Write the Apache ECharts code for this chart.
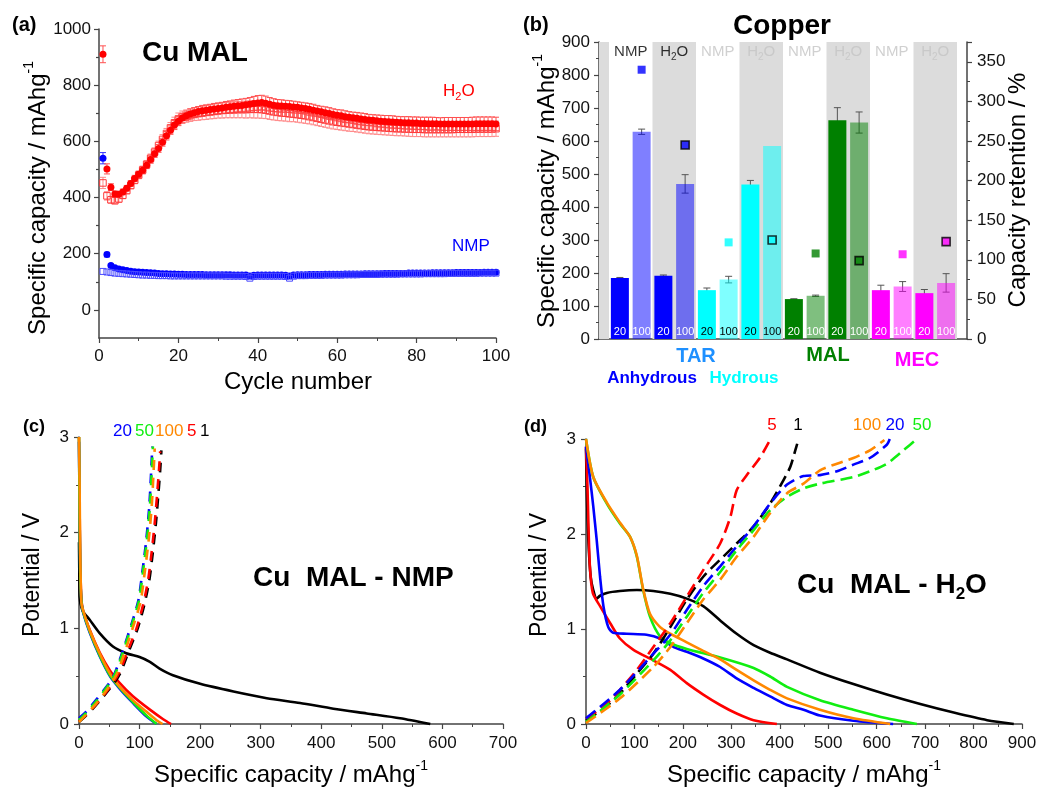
<!DOCTYPE html>
<html>
<head>
<meta charset="utf-8">
<title>Copper MAL electrodes</title>
<script src="https://cdn.jsdelivr.net/npm/echarts@6/dist/echarts.min.js"></script>
<style>
  html, body { margin: 0; padding: 0; background: #fff; }
  #fig { width: 1037px; height: 787px; }
</style>
</head>
<body>
<div id="fig"></div>
<script>
const FONT = '"Liberation Sans", Arial, Helvetica, sans-serif';

// ---------- (a) cycling of Cu MAL electrodes, cycles 1..100 ----------
const h2oDischarge = [
  910,502,437,413,412,420,433,450,468,483,
  497,515,535,556,575,597,620,640,658,672,
  683,691,697,702,706,709,711,713,715,717,
  719,721,723,725,727,728,730,732,735,737,
  738,736,732,729,727,726,725,724,722,721,
  719,717,714,711,708,705,702,699,696,693,
  691,688,686,684,682,680,678,676,675,673,
  672,671,670,669,668,667,666,666,665,665,
  664,664,663,663,663,662,662,662,662,662,
  662,662,662,662,663,663,663,663,663,662];
const h2oDischargeErr = [
  30,18,12,10,10,10,10,10,11,11,
  12,12,13,13,14,14,15,15,16,16,
  17,17,18,18,18,19,19,19,20,20,
  20,21,21,22,22,23,23,24,25,26,
  26,25,24,23,22,22,21,21,21,20,
  20,20,21,21,20,20,21,21,20,20,
  21,21,20,20,21,21,21,20,20,21,
  21,21,22,22,21,21,22,22,22,22,
  22,22,23,23,22,22,23,23,23,23,
  23,23,23,24,24,24,24,24,24,24];
const h2oCharge = [
  452,406,392,389,395,408,425,443,462,480,
  498,518,540,562,585,607,628,648,666,680,
  686,690,694,697,699,701,703,705,707,709,
  710,711,712,712,713,713,713,714,714,714,
  713,711,708,705,703,701,700,698,697,695,
  693,691,688,685,682,679,676,673,670,668,
  666,664,662,660,658,656,654,652,651,650,
  649,648,647,646,645,645,644,644,643,643,
  643,642,642,642,642,642,642,642,642,643,
  643,643,643,643,644,644,644,644,644,645];
const h2oChargeErr = [
  20,15,12,12,12,12,12,12,13,13,
  14,14,15,15,16,17,18,19,20,21,
  22,22,23,23,24,24,25,25,26,26,
  27,27,28,28,29,29,30,30,31,31,
  31,30,30,29,29,28,28,28,27,27,
  27,27,26,26,26,26,26,26,26,26,
  26,26,26,25,25,25,25,25,25,25,
  25,25,25,25,25,25,25,26,26,26,
  26,26,26,26,26,26,26,26,26,27,
  27,27,27,27,27,27,27,27,27,27];
const nmpDischarge = [
  540,197,158,150,146,143,140,138,136,135,
  134,133,132,131,130,129,129,128,128,127,
  127,126,126,126,126,126,125,125,125,125,
  125,125,125,124,124,124,124,121,123,124,
  124,124,124,124,124,124,123,121,124,125,
  125,125,126,126,126,126,127,127,127,127,
  127,128,128,128,128,128,129,129,129,129,
  129,130,130,130,130,130,130,131,131,131,
  131,131,131,132,132,132,132,132,132,133,
  133,133,133,133,133,133,134,134,134,134];
const nmpDischargeErr = [20, 8, 5, 4, 4];   // first cycles only
const nmpCharge = [
  137,135,133,131,130,129,128,127,126,125,
  124,124,123,123,122,122,122,121,121,121,
  121,121,121,121,121,121,121,121,121,121,
  121,120,120,120,120,120,119,113,119,120,
  120,120,120,120,120,120,119,113,120,122,
  122,122,123,123,123,123,124,124,124,124,
  124,125,125,125,125,126,126,126,126,126,
  127,127,127,127,127,128,128,128,128,128,
  128,129,129,129,129,129,129,130,130,130,
  130,130,130,130,130,131,131,131,131,131];

// ---------- (b) copper summary: 20th / 100th cycle capacity ----------
const barBinder  = ['anhydrous','anhydrous','anhydrous','anhydrous','hydrous','hydrous','hydrous','hydrous',
                    'MAL','MAL','MAL','MAL','MEC','MEC','MEC','MEC'];
const barSolvent = ['NMP','NMP','H2O','H2O','NMP','NMP','H2O','H2O',
                    'NMP','NMP','H2O','H2O','NMP','NMP','H2O','H2O'];
const barCycle   = ['20','100','20','100','20','100','20','100','20','100','20','100','20','100','20','100'];
const barCapacity    = [185, 628, 192, 470, 148, 180, 468, 585, 121, 131, 663, 656, 148, 159, 139, 170];
const barCapacityErr = [1.5, 8, 2, 28, 6.5, 10, 12.5, 0, 1, 2, 38, 32, 15, 15, 11, 28];
const retention = [340, 245, 122, 125, 108, 99, 107, 123];   // % of cycle 20, one per binder/solvent pair
const solventHeaders = ['NMP','H2O','NMP','H2O','NMP','H2O','NMP','H2O'];

// ---------- (c) Cu MAL - NMP voltage profiles [capacity, V] ----------
const nmp1Dis   = [[0,1.9],[0.5,1.6],[1,1.33],[5.5,1.19],[17.6,1.09],[34,0.95],[56,0.81],[78,0.74],[100,0.70],[117,0.65],[133,0.58],[155,0.51],[200,0.42],[255,0.34],[310,0.27],[365,0.22],[420,0.16],[475,0.11],[530,0.06],[580,0]];
const nmp5Dis   = [[0,3.0],[1,2.3],[2,1.7],[4,1.3],[7,1.18],[18,0.98],[34,0.75],[51,0.56],[67,0.43],[89,0.29],[117,0.15],[139,0.05],[152,0]];
const nmp20Dis  = [[0,2.95],[1,2.2],[2,1.6],[4,1.28],[7,1.16],[18,0.95],[34,0.71],[51,0.50],[67,0.37],[89,0.22],[111,0.08],[128,0]];
const nmp50Dis  = [[0,3.0],[1,2.2],[2,1.6],[4,1.28],[7,1.17],[18,0.96],[34,0.72],[51,0.51],[67,0.38],[89,0.23],[111,0.09],[128,0]];
const nmp100Dis = [[0,3.0],[1,2.5],[2,1.8],[3.9,1.27],[6.6,1.19],[17.6,0.98],[34,0.74],[51,0.53],[67,0.39],[89,0.25],[111,0.13],[128,0.04],[138,0]];
const nmp1Cha   = [[0,0.02],[17,0.12],[34,0.24],[57,0.42],[68,0.53],[81,0.74],[97,1.0],[108,1.25],[116,1.5],[122,1.8],[127,2.1],[131,2.4],[134,2.65],[136,2.86]];
const nmp5Cha   = [[0,0.03],[16,0.12],[33,0.24],[55,0.42],[66,0.53],[79,0.74],[95,1.0],[106,1.25],[114,1.5],[120,1.8],[125,2.1],[129,2.4],[132,2.65],[134,2.85]];
const nmp20Cha  = [[0,0.06],[12,0.13],[28,0.25],[49,0.42],[59,0.53],[71,0.74],[87,1.05],[98,1.29],[105,1.61],[111,1.92],[116,2.27],[119,2.62],[121,2.9]];
const nmp50Cha  = [[0,0.04],[14,0.13],[30,0.25],[50,0.42],[60,0.53],[72,0.74],[88,1.05],[99,1.29],[106,1.61],[112,1.92],[117,2.27],[120,2.62],[122,2.9]];
const nmp100Cha = [[0,0.02],[15,0.12],[32,0.24],[53,0.42],[63,0.53],[75,0.74],[91,1.05],[102,1.29],[109,1.61],[115,1.92],[120,2.27],[123,2.62],[125,2.88]];

// ---------- (d) Cu MAL - H2O voltage profiles [capacity, V] ----------
const h2o1Dis   = [[0,2.9],[2,2.4],[4.8,1.94],[9.6,1.55],[15,1.41],[22,1.32],[29,1.35],[43,1.38],[70,1.40],[105,1.41],[139,1.40],[174,1.37],[208,1.32],[242,1.24],[277,1.09],[311,0.95],[346,0.83],[380,0.75],[415,0.68],[483,0.54],[552,0.42],[621,0.31],[690,0.21],[759,0.12],[828,0.04],[883,0]];
const h2o5Dis   = [[0,2.92],[3,2.5],[5,2.11],[8,1.66],[14,1.38],[29,1.24],[50,1.06],[70,0.9],[98,0.78],[139,0.67],[174,0.57],[208,0.43],[242,0.31],[277,0.2],[311,0.11],[346,0.04],[394,0]];
const h2o20Dis  = [[0,2.92],[8,2.6],[15,2.29],[22,1.94],[29,1.55],[36,1.24],[46,1.02],[56,0.96],[84,0.95],[125,0.94],[153,0.9],[181,0.81],[208,0.76],[242,0.69],[277,0.6],[311,0.48],[346,0.38],[380,0.29],[415,0.2],[449,0.15],[483,0.09],[552,0.035],[634,0]];
const h2o50Dis  = [[0,3.0],[15,2.6],[43,2.32],[70,2.11],[91,1.97],[105,1.76],[118,1.41],[132,1.13],[153,0.92],[174,0.85],[208,0.79],[277,0.7],[346,0.59],[380,0.5],[415,0.39],[483,0.25],[552,0.15],[621,0.06],[683,0]];
const h2o100Dis = [[0,3.0],[15,2.6],[43,2.33],[70,2.12],[91,1.97],[105,1.77],[118,1.42],[132,1.16],[153,1.02],[174,0.95],[208,0.86],[242,0.77],[277,0.68],[311,0.57],[346,0.46],[380,0.36],[415,0.27],[483,0.15],[552,0.06],[628,0]];
const h2o1Cha   = [[0,0.04],[36,0.16],[70,0.32],[105,0.53],[139,0.74],[174,1.02],[208,1.31],[242,1.55],[277,1.73],[311,1.9],[346,2.08],[380,2.32],[408,2.57],[422,2.71],[432,2.88],[436,2.95]];
const h2o5Cha   = [[0,0.06],[36,0.18],[70,0.36],[105,0.57],[139,0.81],[174,1.06],[208,1.34],[242,1.62],[277,1.9],[298,2.18],[311,2.46],[332,2.62],[360,2.81],[380,2.99]];
const h2o20Cha  = [[0,0.06],[70,0.36],[139,0.74],[174,0.94],[208,1.2],[242,1.45],[277,1.66],[311,1.87],[346,2.08],[380,2.32],[415,2.52],[449,2.61],[483,2.62],[518,2.66],[552,2.73],[586,2.8],[621,2.94],[627,3.0]];
const h2o50Cha  = [[0,0.02],[70,0.31],[139,0.67],[174,0.88],[208,1.13],[242,1.38],[277,1.6],[311,1.83],[346,2.04],[380,2.25],[415,2.39],[449,2.48],[483,2.53],[552,2.6],[586,2.66],[621,2.74],[655,2.88],[683,3.0]];
const h2o100Cha = [[0,0.01],[70,0.27],[139,0.6],[174,0.81],[208,1.06],[242,1.31],[277,1.52],[311,1.76],[346,1.97],[380,2.22],[415,2.43],[449,2.53],[483,2.67],[518,2.74],[552,2.8],[586,2.88],[616,2.99]];

// ---------- styles ----------
const BINDER_COLOR = { anhydrous: [0, 0, 255], hydrous: [0, 255, 255], MAL: [0, 128, 0], MEC: [255, 0, 255] };
const CYCLE_COLOR = { c1: '#000000', c5: '#ff0000', c20: '#0000ff', c50: '#11ee11', c100: '#ff8800' };
const AXIS_COLOR = '#444';
const BAND_COLOR = '#dcdcdc';

function merge(a, b) {
  const out = Object.assign({}, a);
  for (const k in b) {
    if (b[k] && typeof b[k] === 'object' && !Array.isArray(b[k]) && a[k] && typeof a[k] === 'object') out[k] = merge(a[k], b[k]);
    else out[k] = b[k];
  }
  return out;
}
const AXIS_BASE = {
  type: 'value',
  axisLine: { show: true, onZero: false, lineStyle: { color: AXIS_COLOR, width: 1.5 } },
  axisTick: { show: true, length: 5, lineStyle: { color: AXIS_COLOR, width: 1.2 } },
  minorTick: { show: true, splitNumber: 2, length: 3, lineStyle: { color: AXIS_COLOR, width: 1 } },
  axisLabel: { color: '#111', fontSize: 17, fontFamily: FONT, margin: 9, formatter: v => String(v) },
  splitLine: { show: false },
  minorSplitLine: { show: false }
};
const axis = o => merge(AXIS_BASE, o);

function rich(size, bold, color) {
  const w = bold ? 'bold' : 'normal';
  return {
    n:   { fontSize: size, fontFamily: FONT, fontWeight: w, fill: color, color, lineHeight: Math.round(size * 1.3) },
    sup: { fontSize: Math.round(size * 0.6), fontFamily: FONT, fontWeight: w, fill: color, color, lineHeight: Math.round(size * 0.6), verticalAlign: 'top' },
    sub: { fontSize: Math.round(size * 0.62), fontFamily: FONT, fontWeight: w, fill: color, color, lineHeight: Math.round(size * 0.62), verticalAlign: 'bottom' }
  };
}
function txt(x, y, text, o) {
  o = o || {};
  const size = o.size || 17, color = o.color || '#000', align = o.align || 'left';
  return {
    type: 'text', x, y, rotation: o.rot || 0, silent: true, z: 20,
    style: {
      text, fill: color, fontSize: size, fontFamily: FONT, fontWeight: o.bold ? 'bold' : 'normal',
      lineHeight: Math.round(size * 1.3),
      align, verticalAlign: 'middle', textAlign: align, textVerticalAlign: 'middle',
      rich: rich(size, o.bold, color)
    }
  };
}
const CAP_UNIT = '{n|Specific capacity / mAhg}{sup|-1}';

function errorBars(points, xi, yi, color, cap) {
  return {
    type: 'custom', xAxisIndex: xi, yAxisIndex: yi, silent: true, animation: false,
    encode: { x: 0, y: 1 }, data: points,
    renderItem(params, api) {
      const x = api.value(0), y = api.value(1), e = api.value(2);
      const hi = api.coord([x, y + e]), lo = api.coord([x, y - e]);
      const st = { stroke: color, lineWidth: 1 };
      return { type: 'group', children: [
        { type: 'line', shape: { x1: hi[0], y1: hi[1], x2: lo[0], y2: lo[1] }, style: st },
        { type: 'line', shape: { x1: hi[0] - cap, y1: hi[1], x2: hi[0] + cap, y2: hi[1] }, style: st },
        { type: 'line', shape: { x1: lo[0] - cap, y1: lo[1], x2: lo[0] + cap, y2: lo[1] }, style: st }
      ] };
    }
  };
}
function cycleScatter(values, symbol, fill, border, size) {
  return {
    type: 'scatter', xAxisIndex: 0, yAxisIndex: 0, silent: true, animation: false,
    symbol, symbolSize: size,
    itemStyle: { color: fill, borderColor: border, borderWidth: border ? 1 : 0, opacity: 1 },
    data: values.map((v, i) => [i + 1, v])
  };
}
function profile(data, xi, yi, color, dash) {
  return {
    type: 'line', xAxisIndex: xi, yAxisIndex: yi, data, symbol: 'none', showSymbol: false,
    smooth: 0.25, silent: true, animation: false, clip: false,
    lineStyle: { color, width: 2.6, type: dash || 'solid', cap: 'butt' }
  };
}

// ---------- (b) marks ----------
const B_XMIN = 0.04, B_XMAX = 16.96;
const rgba = (c, a) => `rgba(${c[0]},${c[1]},${c[2]},${a})`;
const barData = barCapacity.map((v, i) => {
  const c = BINDER_COLOR[barBinder[i]];
  return {
    value: [i + 1, v],
    itemStyle: { color: rgba(c, barCycle[i] === '100' ? 0.5 : 1) },
    label: { color: barBinder[i] === 'hydrous' ? '#000' : '#fff' }
  };
});
const barErr = barCapacity.map((v, i) => [i + 1, v, barCapacityErr[i]]).filter(p => p[2] > 0);
// gray background behind the H2O pairs (and the strip left of the first pair)
const bands = [[B_XMIN, 0.5]];
barSolvent.forEach((s, i) => { if (s === 'H2O' && barCycle[i] === '20') bands.push([i + 0.5, i + 2.5]); });
const retentionData = retention.map((r, k) => {
  const i = 2 * k + 1;
  const c = BINDER_COLOR[barBinder[i]];
  const boxed = barSolvent[i] === 'H2O';
  return {
    value: [i + 1, r],
    itemStyle: { color: rgba(c, 1), borderColor: boxed ? '#000' : rgba(c, 1), borderWidth: boxed ? 1.6 : 0 }
  };
});
const headerData = solventHeaders.map((s, k) => ({
  value: [2 * k + 1.5, 870], name: s,
  label: { color: k < 2 ? '#000' : '#c4c4c4' }
}));

const option = {
  backgroundColor: '#fff',
  animation: false,
  textStyle: { fontFamily: FONT },
  grid: [
    { left: 99,  top: 29,  width: 397, height: 309, outerBoundsMode: 'none' },
    { left: 599, top: 42,  width: 368, height: 297, outerBoundsMode: 'none' },
    { left: 79,  top: 437, width: 424, height: 287, outerBoundsMode: 'none' },
    { left: 586, top: 439, width: 436, height: 285, outerBoundsMode: 'none' }
  ],
  xAxis: [
    axis({ gridIndex: 0, min: 0, max: 100, interval: 20, axisLabel: { margin: 10 } }),
    axis({ gridIndex: 1, min: B_XMIN, max: B_XMAX, axisTick: { show: false }, minorTick: { show: false }, axisLabel: { show: false } }),
    axis({ gridIndex: 2, min: 0, max: 700, interval: 100, axisLabel: { margin: 11 } }),
    axis({ gridIndex: 3, min: 0, max: 900, interval: 100, axisLabel: { margin: 11 } })
  ],
  yAxis: [
    axis({ gridIndex: 0, min: -100, max: 1000, minorTick: { show: false },
           axisLabel: { customValues: [0, 200, 400, 600, 800, 1000], margin: 8 },
           axisTick: { customValues: [0, 200, 400, 600, 800, 1000] } }),
    axis({ gridIndex: 0, position: 'left', min: -100, max: 1000, minorTick: { show: false },
           axisLine: { show: false }, axisLabel: { show: false },
           axisTick: { customValues: [100, 300, 500, 700, 900], length: 3 } }),
    axis({ gridIndex: 1, min: 0, max: 900, interval: 100, axisLabel: { margin: 9 } }),
    axis({ gridIndex: 1, position: 'right', min: 0, max: 375, interval: 50, axisLabel: { showMaxLabel: false, margin: 10 } }),
    axis({ gridIndex: 2, min: 0, max: 3, interval: 1, axisLabel: { margin: 10 } }),
    axis({ gridIndex: 3, min: 0, max: 3, interval: 1, axisLabel: { margin: 10 } })
  ],
  series: [
    // (a)
    errorBars(nmpDischargeErr.map((e, i) => [i + 1, nmpDischarge[i], e]), 0, 0, '#3030ff', 3),
    cycleScatter(nmpDischarge, 'circle', '#0000ff', null, 7),
    cycleScatter(nmpCharge, 'rect', 'rgba(0,0,0,0)', '#4a4aff', 6),
    errorBars(h2oCharge.map((v, i) => [i + 1, v, h2oChargeErr[i]]), 0, 0, '#ff8a8a', 3),
    cycleScatter(h2oCharge, 'rect', 'rgba(0,0,0,0)', '#ff3a3a', 6.5),
    errorBars(h2oDischarge.map((v, i) => [i + 1, v, h2oDischargeErr[i]]), 0, 0, '#ff5050', 3),
    cycleScatter(h2oDischarge, 'circle', '#ff0000', null, 7),

    // (b)
    {
      type: 'custom', xAxisIndex: 1, yAxisIndex: 2, silent: true, z: 1, animation: false,
      encode: { x: [0, 1] }, data: bands,
      renderItem(params, api) {
        const p0 = api.coord([Math.max(api.value(0), B_XMIN), 900]);
        const p1 = api.coord([Math.min(api.value(1), B_XMAX), 0]);
        return { type: 'rect', shape: { x: p0[0], y: p0[1], width: p1[0] - p0[0], height: p1[1] - p0[1] }, style: { fill: BAND_COLOR } };
      }
    },
    {
      type: 'bar', xAxisIndex: 1, yAxisIndex: 2, barWidth: 18, silent: true, animation: false,
      data: barData,
      label: { show: true, position: 'insideBottom', distance: 2, fontSize: 11, fontFamily: FONT,
               formatter: p => barCycle[p.dataIndex] }
    },
    errorBars(barErr, 1, 2, '#555', 3.5),
    {
      type: 'scatter', xAxisIndex: 1, yAxisIndex: 3, silent: true, animation: false,
      symbol: 'rect', symbolSize: 8, data: retentionData
    },
    {
      type: 'scatter', xAxisIndex: 1, yAxisIndex: 2, silent: true, animation: false,
      symbolSize: 1, itemStyle: { color: 'rgba(0,0,0,0)' }, data: headerData,
      label: {
        show: true, position: 'inside', fontSize: 15, fontFamily: FONT,
        formatter: p => p.name === 'H2O' ? '{n|H}{s|2}{n|O}' : '{n|NMP}',
        rich: { n: { fontSize: 15, lineHeight: 20 }, s: { fontSize: 10, lineHeight: 10, verticalAlign: 'bottom' } }
      }
    },

    // (c)
    profile(nmp1Dis, 2, 4, CYCLE_COLOR.c1),
    profile(nmp5Dis, 2, 4, CYCLE_COLOR.c5),
    profile(nmp20Dis, 2, 4, CYCLE_COLOR.c20),
    profile(nmp50Dis, 2, 4, CYCLE_COLOR.c50),
    profile(nmp100Dis, 2, 4, CYCLE_COLOR.c100),
    profile(nmp1Cha, 2, 4, CYCLE_COLOR.c1, [10, 8]),
    profile(nmp5Cha, 2, 4, CYCLE_COLOR.c5, [10, 8]),
    profile(nmp20Cha, 2, 4, CYCLE_COLOR.c20, [10, 8]),
    profile(nmp50Cha, 2, 4, CYCLE_COLOR.c50, [10, 8]),
    profile(nmp100Cha, 2, 4, CYCLE_COLOR.c100, [10, 8]),

    // (d)
    profile(h2o1Dis, 3, 5, CYCLE_COLOR.c1),
    profile(h2o5Dis, 3, 5, CYCLE_COLOR.c5),
    profile(h2o20Dis, 3, 5, CYCLE_COLOR.c20),
    profile(h2o50Dis, 3, 5, CYCLE_COLOR.c50),
    profile(h2o100Dis, 3, 5, CYCLE_COLOR.c100),
    profile(h2o1Cha, 3, 5, CYCLE_COLOR.c1, [12, 6]),
    profile(h2o5Cha, 3, 5, CYCLE_COLOR.c5, [12, 6]),
    profile(h2o20Cha, 3, 5, CYCLE_COLOR.c20, [12, 6]),
    profile(h2o50Cha, 3, 5, CYCLE_COLOR.c50, [12, 6]),
    profile(h2o100Cha, 3, 5, CYCLE_COLOR.c100, [12, 6])
  ],
  graphic: [
    // panel tags
    txt(12, 25, '(a)', { size: 20, bold: true }),
    txt(523, 25, '(b)', { size: 20, bold: true }),
    txt(23, 427, '(c)', { size: 18, bold: true }),
    txt(524, 427, '(d)', { size: 18, bold: true }),

    // (a)
    txt(142, 53, 'Cu MAL', { size: 28, bold: true }),
    txt(443, 91, '{n|H}{sub|2}{n|O}', { size: 17, color: '#ff0000' }),
    txt(452, 246, 'NMP', { size: 17, color: '#0000ff' }),
    txt(38, 198, CAP_UNIT, { size: 24, rot: Math.PI / 2, align: 'center' }),
    txt(298, 382, 'Cycle number', { size: 24, align: 'center' }),

    // (b)
    txt(782, 26, 'Copper', { size: 28, bold: true, align: 'center' }),
    txt(547, 191, CAP_UNIT, { size: 24, rot: Math.PI / 2, align: 'center' }),
    txt(1018, 190, 'Capacity retention / %', { size: 24, rot: Math.PI / 2, align: 'center' }),
    txt(696, 356, 'TAR', { size: 20, bold: true, color: '#1e90ff', align: 'center' }),
    txt(828, 355, 'MAL', { size: 20, bold: true, color: '#008000', align: 'center' }),
    txt(917, 360, 'MEC', { size: 20, bold: true, color: '#ff00ff', align: 'center' }),
    txt(652, 378, 'Anhydrous', { size: 17, bold: true, color: '#0000ff', align: 'center' }),
    txt(744, 378, 'Hydrous', { size: 17, bold: true, color: '#00ffff', align: 'center' }),

    // (c)
    txt(113, 431, '20', { color: CYCLE_COLOR.c20 }),
    txt(135, 431, '50', { color: CYCLE_COLOR.c50 }),
    txt(155, 431, '100', { color: CYCLE_COLOR.c100 }),
    txt(187, 431, '5', { color: CYCLE_COLOR.c5 }),
    txt(200, 431, '1', { color: CYCLE_COLOR.c1 }),
    txt(253, 578, 'Cu  MAL - NMP', { size: 28, bold: true }),
    txt(33, 575, 'Potential / V', { size: 23, rot: Math.PI / 2, align: 'center' }),
    txt(291, 775, CAP_UNIT, { size: 24, align: 'center' }),

    // (d)
    txt(772, 425, '5', { color: CYCLE_COLOR.c5, align: 'center' }),
    txt(798, 425, '1', { color: CYCLE_COLOR.c1, align: 'center' }),
    txt(867, 425, '100', { color: CYCLE_COLOR.c100, align: 'center' }),
    txt(895, 425, '20', { color: CYCLE_COLOR.c20, align: 'center' }),
    txt(922, 425, '50', { color: CYCLE_COLOR.c50, align: 'center' }),
    txt(797, 585, '{n|Cu  MAL - H}{sub|2}{n|O}', { size: 28, bold: true }),
    txt(540, 575, 'Potential / V', { size: 23, rot: Math.PI / 2, align: 'center' }),
    txt(804, 775, CAP_UNIT, { size: 24, align: 'center' })
  ]
};

const chart = echarts.init(document.getElementById('fig'), null, { renderer: 'canvas' });
chart.setOption(option);
</script>
</body>
</html>
